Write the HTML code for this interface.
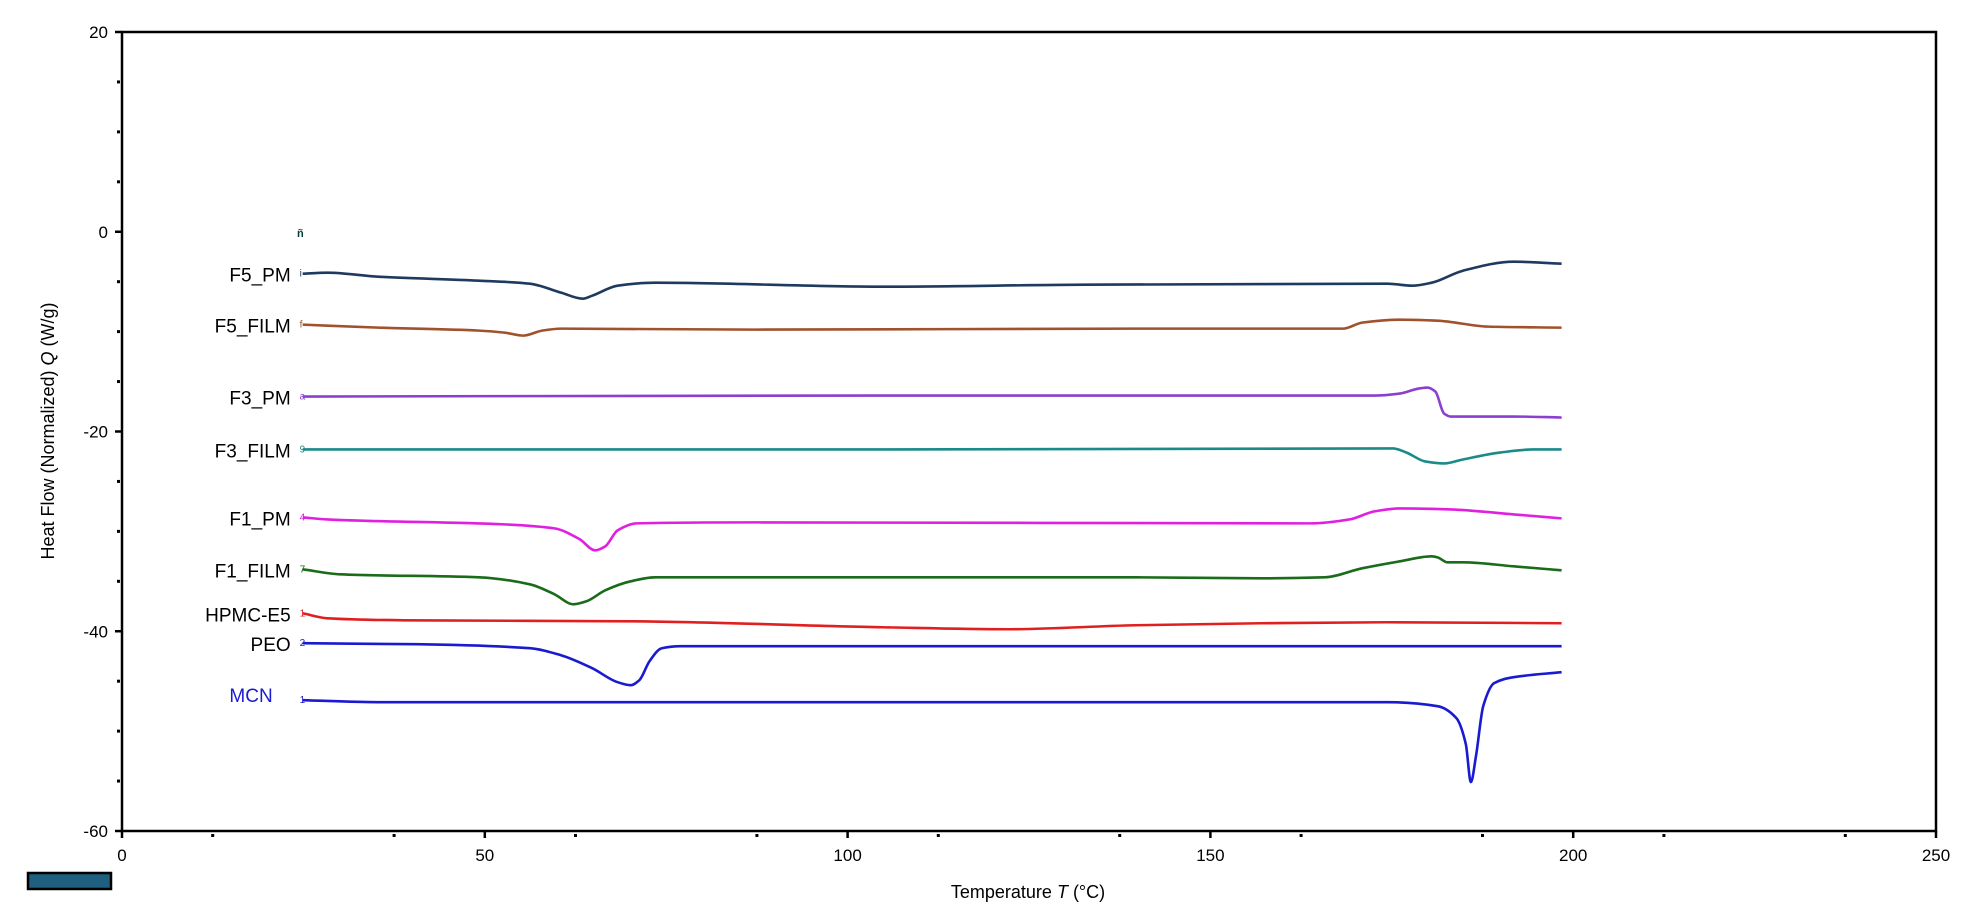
<!DOCTYPE html>
<html><head><meta charset="utf-8"><style>
body{margin:0;background:#fff;width:1977px;height:919px;overflow:hidden}
svg{font-family:"Liberation Sans",sans-serif}
</style></head><body>
<svg id="chart" width="1977" height="919">
<rect x="122" y="32" width="1814" height="799" fill="none" stroke="#000" stroke-width="2.5"/>
<g id="axes"></g>
<g id="series"></g>
<text x="54" y="431" transform="rotate(-90 54 431)" text-anchor="middle" font-size="18">Heat Flow (Normalized)  <tspan font-style="italic">Q</tspan>  (W/g)</text>
<text x="1028" y="898" text-anchor="middle" font-size="18">Temperature  <tspan font-style="italic">T</tspan>  (°C)</text>
<rect x="28" y="873" width="83" height="16" fill="#1f5f7f" stroke="#000" stroke-width="2.5"/>
<text x="297" y="237" font-size="11" fill="#0a3a3a" font-weight="bold">ñ</text>
</svg>
<script>
const X0=122,X1=1936,Y0=831,Y1=32;
const xMin=0,xMax=250,yMin=-60,yMax=20;
const xTicks=[0,50,100,150,200,250];
const yTicks=[20,0,-20,-40,-60];
const seriesNames=["F5_PM","F5_FILM","F3_PM","F3_FILM","F1_PM","F1_FILM","HPMC-E5","PEO","MCN"];
const seriesColors=["#1f3a5f","#a0522d","#8a3fd1","#1a8a8a","#e020e0","#1a6b1a","#e02020","#1a1ad0","#1a1ad0"];
const seriesMarks=["i","f","a","9","4","7","1","2","1"];
const t_F5_PM=[24.9,28.3,35.3,49.2,56.2,60.5,63.5,64.8,68.3,73.5,104.8,132.6,174.4,177.8,180.5,184.8,191.8,198.4];
const q_F5_PM=[-4.2,-4.1,-4.5,-4.9,-5.2,-6.1,-6.7,-6.4,-5.4,-5.1,-5.5,-5.3,-5.2,-5.4,-5.1,-3.9,-3.0,-3.2];
const t_F5_FILM=[24.9,35.3,49.2,52.7,55.3,57.9,60.5,87.4,139.6,168.3,170.9,176.1,181.3,188.3,198.4];
const q_F5_FILM=[-9.3,-9.6,-9.9,-10.1,-10.4,-9.9,-9.7,-9.8,-9.7,-9.7,-9.1,-8.8,-8.9,-9.5,-9.6];
const t_F3_PM=[24.9,104.8,172.6,176.1,178.7,179.9,181.0,182.2,183.1,191.8,198.4];
const q_F3_PM=[-16.5,-16.4,-16.4,-16.2,-15.7,-15.6,-16.0,-18.2,-18.5,-18.5,-18.6];
const t_F3_FILM=[24.9,104.8,175.2,177.0,179.6,182.2,184.8,190.0,194.4,198.4];
const q_F3_FILM=[-21.8,-21.8,-21.7,-22.1,-23.0,-23.2,-22.8,-22.1,-21.8,-21.8];
const t_F1_PM=[24.9,28.3,52.7,59.6,63.1,65.2,66.6,68.3,70.9,87.4,163.9,169.2,172.6,176.1,183.1,191.8,198.4];
const q_F1_PM=[-28.6,-28.8,-29.3,-29.7,-30.8,-31.9,-31.5,-29.9,-29.2,-29.1,-29.2,-28.8,-28.0,-27.7,-27.8,-28.3,-28.7];
const t_F1_FILM=[24.9,30.1,49.2,56.2,59.6,62.2,64.0,66.6,70.1,73.5,139.6,157.0,165.7,170.9,176.1,180.5,181.3,182.7,184.8,191.8,198.4];
const q_F1_FILM=[-33.8,-34.3,-34.6,-35.3,-36.3,-37.3,-37.0,-35.9,-35.0,-34.6,-34.6,-34.7,-34.6,-33.7,-33.0,-32.5,-32.6,-33.1,-33.1,-33.5,-33.9];
const t_HPMC=[24.9,28.3,38.8,70.1,104.8,122.2,139.6,157.0,174.4,198.4];
const q_HPMC=[-38.2,-38.7,-38.9,-39.0,-39.6,-39.8,-39.4,-39.2,-39.1,-39.2];
const t_PEO=[24.9,40.5,56.2,60.5,64.8,68.3,70.1,71.3,72.7,74.4,77.0,198.4];
const q_PEO=[-41.2,-41.3,-41.7,-42.4,-43.7,-45.1,-45.4,-44.9,-43.0,-41.7,-41.5,-41.5];
const t_MCN=[24.9,35.3,174.4,181.3,183.9,185.2,185.9,186.6,187.6,189.1,191.8,198.4];
const q_MCN=[-46.9,-47.1,-47.1,-47.5,-48.7,-51.3,-55.1,-52.5,-47.5,-45.2,-44.6,-44.1];
const allT=[t_F5_PM,t_F5_FILM,t_F3_PM,t_F3_FILM,t_F1_PM,t_F1_FILM,t_HPMC,t_PEO,t_MCN];
const allQ=[q_F5_PM,q_F5_FILM,q_F3_PM,q_F3_FILM,q_F1_PM,q_F1_FILM,q_HPMC,q_PEO,q_MCN];

const sx=v=>X0+(v-xMin)/(xMax-xMin)*(X1-X0);
const sy=v=>Y0-(v-yMin)/(yMax-yMin)*(Y0-Y1);
const NS="http://www.w3.org/2000/svg";
function mk(tag,attrs,parent,text){const e=document.createElementNS(NS,tag);for(const k in attrs)e.setAttribute(k,attrs[k]);if(text!==undefined)e.textContent=text;parent.appendChild(e);return e;}
const axes=document.getElementById('axes');
xTicks.forEach(v=>{
  const l=mk('line',{x1:sx(v),x2:sx(v),y1:Y0,y2:Y0+7,stroke:'#000','stroke-width':2.5},axes);
  
  
  const t=mk('text',{x:sx(v),y:Y0+30,'text-anchor':'middle','font-size':17},axes,String(v));
  
  
});
for(let v=12.5;v<250;v+=25){
  const d=mk('rect',{x:sx(v)-1.5,y:Y0+3,width:3,height:3,fill:'#000'},axes);
  
  
}
yTicks.forEach(v=>{
  const l=mk('line',{x1:X0-7,x2:X0,y1:sy(v),y2:sy(v),stroke:'#000','stroke-width':2.5},axes);
  
  
  const t=mk('text',{x:X0-14,y:sy(v)+6,'text-anchor':'end','font-size':17},axes,String(v));
  
  
});
for(let v=-55;v<20;v+=5){ if(v%20===0)continue;
  const d=mk('rect',{x:X0-5,y:sy(v)-1.5,width:3,height:3,fill:'#000'},axes);
  
  
}
function monotone(pts){
  const n=pts.length,dx=[],sl=[],m=new Array(n);
  for(let i=0;i<n-1;i++){dx[i]=pts[i+1][0]-pts[i][0];sl[i]=(pts[i+1][1]-pts[i][1])/dx[i];}
  m[0]=sl[0];m[n-1]=sl[n-2];
  for(let i=1;i<n-1;i++){ if(sl[i-1]*sl[i]<=0)m[i]=0; else { const w1=2*dx[i]+dx[i-1],w2=dx[i]+2*dx[i-1]; m[i]=(w1+w2)/(w1/sl[i-1]+w2/sl[i]); } }
  let d=`M${pts[0][0]},${pts[0][1]}`;
  for(let i=0;i<n-1;i++){
    const h=dx[i]/3;
    d+=` C${pts[i][0]+h},${pts[i][1]+m[i]*h} ${pts[i+1][0]-h},${pts[i+1][1]-m[i+1]*h} ${pts[i+1][0]},${pts[i+1][1]}`;
  }
  return d;
}
const sg=document.getElementById('series');
seriesNames.forEach((name,i)=>{
  const T=allT[i],Q=allQ[i];
  const pts=T.map((t,j)=>[sx(t),sy(Q[j])]);
  const p=mk('path',{d:monotone(pts),fill:'none',stroke:seriesColors[i],'stroke-width':2.6},sg);
  
  
  const lab=mk('text',{x:sx(T[0])-12-(i===8?18:0),y:sy(Q[0])+8-(i===8?6:0),'text-anchor':'end','font-size':19,fill:i===8?'#1a1ad0':'#000'},sg,name);
  
  
  const m=mk('text',{x:sx(T[0])-3,y:sy(Q[0])+3,'font-size':10,fill:seriesColors[i]},sg,seriesMarks[i]);
  
  
});
</script>
</body></html>
